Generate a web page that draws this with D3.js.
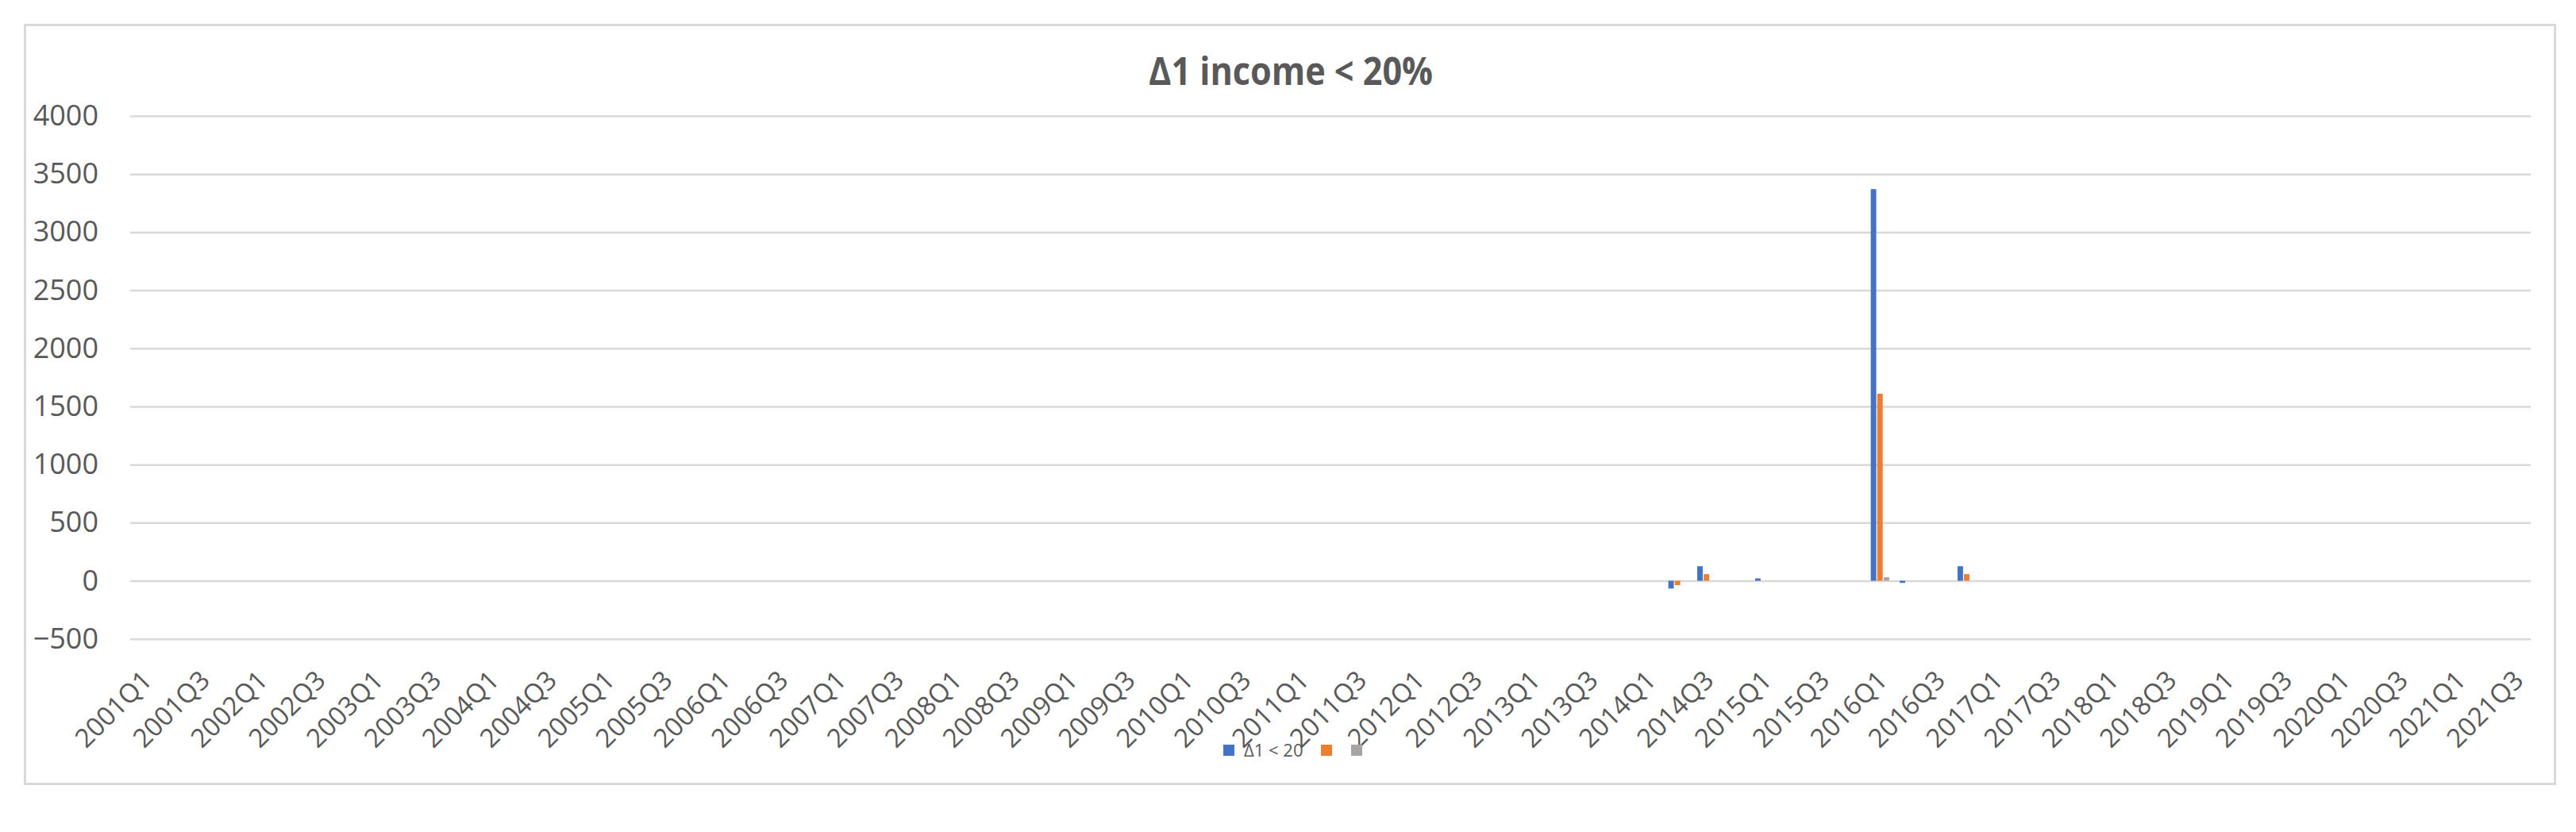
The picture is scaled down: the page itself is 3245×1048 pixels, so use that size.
<!DOCTYPE html>
<html>
<head>
<meta charset="utf-8">
<script src="https://cdn.jsdelivr.net/npm/d3@7/dist/d3.min.js"></script>
<style>
    body { margin: 0; background: #ffffff; }
    text { font-family: "Open Sans", "Liberation Sans", sans-serif; fill: #595959; }
</style>
</head>
<body>
<div class="chart"></div>
<script>
// ==================================
// data

var years = [2001, 2002, 2003, 2004, 2005, 2006, 2007, 2008, 2009, 2010,
    2011, 2012, 2013, 2014, 2015, 2016, 2017, 2018, 2019, 2020, 2021];
var quarters = ["Q1", "Q2", "Q3", "Q4"];
var lastQuarter = "2021Q3";

var categories = [];
years.forEach(function(y) {
    quarters.forEach(function(q) {
        if (categories.indexOf(lastQuarter) === -1) {
            categories.push(y + q);
        }
    });
});

var seriesNames = ["\u03941 < 20", "", ""];

// one row per year, Q1..Q4
var blueValues = [
    0, 0, 0, 0,   0, 0, 0, 0,   0, 0, 0, 0,   0, 0, 0, 0,   0, 0, 0, 0,   // 2001-2005
    0, 0, 0, 0,   0, 0, 0, 0,   0, 0, 0, 0,   0, 0, 0, 0,   0, 0, 0, 0,   // 2006-2010
    0, 0, 0, 0,   0, 0, 0, 0,   0, 0, 0, 0,                               // 2011-2013
    0, -67, 125, 0,                                                        // 2014
    20, 0, 0, 0,                                                           // 2015
    3370, -18, 0, 125,                                                     // 2016
    0, 0, 0, 0,   0, 0, 0, 0,   0, 0, 0, 0,   0, 0, 0, 0,                 // 2017-2020
    0, 0, 0                                                                // 2021
];
var orangeValues = [
    0, 0, 0, 0,   0, 0, 0, 0,   0, 0, 0, 0,   0, 0, 0, 0,   0, 0, 0, 0,
    0, 0, 0, 0,   0, 0, 0, 0,   0, 0, 0, 0,   0, 0, 0, 0,   0, 0, 0, 0,
    0, 0, 0, 0,   0, 0, 0, 0,   0, 0, 0, 0,
    0, -38, 57, 0,
    0, 0, 0, 0,
    1610, 0, 0, 57,
    0, 0, 0, 0,   0, 0, 0, 0,   0, 0, 0, 0,   0, 0, 0, 0,
    0, 0, 0
];
var greyValues = [
    0, 0, 0, 0,   0, 0, 0, 0,   0, 0, 0, 0,   0, 0, 0, 0,   0, 0, 0, 0,
    0, 0, 0, 0,   0, 0, 0, 0,   0, 0, 0, 0,   0, 0, 0, 0,   0, 0, 0, 0,
    0, 0, 0, 0,   0, 0, 0, 0,   0, 0, 0, 0,
    0, 0, 0, 0,
    0, 0, 0, 0,
    30, 0, 0, 0,
    0, 0, 0, 0,   0, 0, 0, 0,   0, 0, 0, 0,   0, 0, 0, 0,
    0, 0, 0
];

var yTicks = [-500, 0, 500, 1000, 1500, 2000, 2500, 3000, 3500, 4000];
var colors = ["#4472C4", "#ED7D31", "#A5A5A5"];
var title = "\u03941 income < 20%";

// ==================================

var w = 3245;
var h = 1048;
var plot = { left: 164, right: 3188, top: 146, bottom: 804.7 };

var svg = d3.select(".chart")
    .append("svg")
    .attr("width", w)
    .attr("height", h);

svg.append("rect")
    .attr("width", w)
    .attr("height", h)
    .attr("fill", "#ffffff");

// chart frame
svg.append("rect")
    .attr("x", 31.5)
    .attr("y", 31.5)
    .attr("width", 3187)
    .attr("height", 956)
    .attr("fill", "none")
    .attr("stroke", "#D9D9D9")
    .attr("stroke-width", 3);

svg.append("text")
    .attr("x", 1626)
    .attr("y", 107)
    .attr("text-anchor", "middle")
    .attr("font-size", 48)
    .attr("font-weight", "bold")
    .attr("textLength", 358)
    .attr("lengthAdjust", "spacingAndGlyphs")
    .text(title);

var y = d3.scaleLinear()
    .domain([-500, 4000])
    .range([plot.bottom, plot.top]);

var x = d3.scaleBand()
    .domain(categories)
    .range([plot.left, plot.right])
    .padding(0);

var x1 = d3.scaleBand()
    .domain([0, 1, 2])
    .range([6.6, 29.8])
    .paddingInner(0.15);

// gridlines + y labels
var yAxis = svg.append("g")
    .attr("transform", "translate(" + plot.left + ",0)")
    .call(d3.axisLeft(y)
        .tickValues(yTicks)
        .tickSize(-(plot.right - plot.left))
        .tickPadding(40)
        .tickFormat(d3.format("d")));

yAxis.select(".domain").remove();
yAxis.selectAll("line")
    .attr("stroke", "#D9D9D9")
    .attr("stroke-width", 2.5);
yAxis.selectAll("text")
    .attr("font-size", 36)
    .attr("font-family", null)
    .attr("fill", "#595959");

// bars
var series = [blueValues, orangeValues, greyValues];

series.forEach(function(values, s) {
    var points = values.map(function(v, i) {
        return { cat: categories[i], value: v };
    }).filter(function(d) {
        return d.value !== 0;
    });

    svg.append("g")
        .selectAll("rect")
        .data(points)
        .enter()
        .append("rect")
        .attr("x", function(d) {
            return x(d.cat) + x1(s);
        })
        .attr("y", function(d) { return y(Math.max(d.value, 0)); })
        .attr("width", x1.bandwidth())
        .attr("height", function(d) { return Math.abs(y(d.value) - y(0)); })
        .attr("fill", colors[s]);
});

// x labels, every second quarter
var xAxis = svg.append("g")
    .attr("transform", "translate(0," + plot.bottom + ")")
    .call(d3.axisBottom(x)
        .tickValues(categories.filter(function(d, i) { return i % 2 === 0; }))
        .tickSize(0));

xAxis.select(".domain").remove();
xAxis.selectAll("text")
    .attr("font-size", 33)
    .attr("font-family", null)
    .attr("fill", "#595959")
    .attr("text-anchor", "end")
    .attr("x", 0)
    .attr("y", 0)
    .attr("dy", "0.35em")
    .attr("transform", "translate(3,46) rotate(-45)");

// legend
var legendX = [1541, 1664, 1702];
var legend = svg.append("g");

seriesNames.forEach(function(name, s) {
    legend.append("rect")
        .attr("x", legendX[s])
        .attr("y", 938)
        .attr("width", 14)
        .attr("height", 14)
        .attr("fill", colors[s]);
    if (name) {
        legend.append("text")
            .attr("x", legendX[s] + 26)
            .attr("y", 945)
            .attr("dy", "0.35em")
            .attr("font-size", 22)
            .text(name);
    }
});
</script>
</body>
</html>
